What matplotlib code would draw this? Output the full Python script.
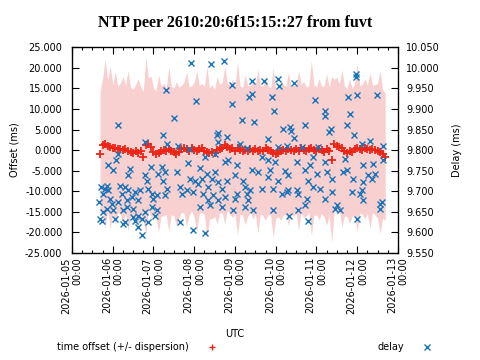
import numpy as np
import matplotlib
matplotlib.use("Agg")
import matplotlib.pyplot as plt
import matplotlib.dates as mdates
from matplotlib.lines import Line2D
from matplotlib.ticker import MultipleLocator, FormatStrFormatter

plt.rcParams["font.family"] = ["DejaVu Sans"]
plt.rcParams["font.size"] = 7

title = "NTP peer 2610:20:6f15:15::27 from fuvt"

# offset samples every 90 minutes from 2026-01-05 16:30
offset_start = np.datetime64("2026-01-05T16:30")
offset_step_min = 90
offset_ms = [
    -1.0, 1.3, 1.6, 1.1, 0.7, 0.4, 0.5, 0.2, 0.3, 0.1,
    0.2, -0.2, -0.4, -0.6, -0.3, -0.7, -0.2, -1.6, 1.2, 1.6,
    0.8, -0.4, -1.0, -0.8, -0.2, 0.1, -0.3, 0.2, -0.1, -0.4,
    -0.9, -0.5, 0.3, 0.6, 0.2, -0.2, 0.4, 0.1, -0.3, 0.2,
    0.5, -0.1, -0.5, -0.8, -0.4, -0.7, 0.0, 0.3, 0.6, 1.2,
    0.8, 0.2, 0.5, -0.1, 0.4, 0.0, -0.3, 0.1, -0.2, 0.3,
    -0.1, 0.2, -0.3, 0.1, -0.2, 0.4, 0.0, -0.3, -0.6, -0.9,
    -0.7, -0.2, 0.1, -0.1, 0.3, 0.0, -0.2, 0.2, -0.1, 0.4,
    0.1, -0.3, 0.2, 0.5, 0.0, -0.2, 0.3, 0.1, -0.4, 0.2,
    -0.3, -2.3, 1.5, 1.0, 0.7, 0.4, -0.2, -0.6, -0.3, -0.5,
    0.2, 0.5, 0.3, 0.1, 0.4, 0.2, 0.0, 0.3, 0.1, -0.2,
    -0.5, -0.9, -1.6,
]
dispersion_ms = [
    15.2, 16.0, 20.5, 15.8, 19.8, 15.6, 18.5, 15.4, 15.9, 17.8,
    15.5, 19.5, 15.7, 15.4, 16.2, 18.0, 15.6, 15.8, 21.5, 15.9,
    17.2, 15.5, 15.4, 19.0, 15.8, 16.1, 15.3, 20.0, 15.6, 15.5,
    17.5, 15.8, 15.4, 15.9, 18.8, 15.6, 15.2, 16.4, 19.6, 15.5,
    15.7, 15.6, 20.8, 15.9, 16.3, 15.4, 17.9, 15.6, 15.8, 19.2,
    15.5, 15.7, 16.8, 15.4, 21.0, 15.6, 15.5, 18.2, 15.9, 15.3,
    16.6, 15.7, 19.9, 15.5, 15.8, 17.4, 15.6, 15.4, 20.6, 15.7,
    15.5, 16.9, 15.8, 15.6, 18.6, 15.4, 15.9, 15.5, 19.4, 15.6,
    16.5, 15.7, 15.4, 21.2, 15.8, 15.6, 17.1, 15.5, 15.9, 18.4,
    15.6, 20.2, 15.7, 16.7, 15.4, 19.1, 15.8, 15.5, 17.6, 15.6,
    15.9, 20.4, 15.5, 15.7, 17.0, 15.6, 18.9, 15.4, 15.8, 16.4,
    19.7, 15.6, 15.5,
]

# delay samples: hours after 2026-01-05 00:00, delay in ms
delay_hours = [
    55.4, 27.3, 60.3, 53.8, 43.0, 55.8, 27.3, 25.7, 21.0, 24.3,
    34.2, 33.2, 46.5, 52.8, 50.8, 54.8, 43.0, 44.0, 53.8, 17.1,
    19.4, 21.4, 18.5, 20.4, 28.3, 31.2, 33.2, 29.3, 37.1, 40.1,
    35.2, 45.0, 46.9, 49.9, 47.9, 55.8, 54.8, 22.4, 23.4, 15.9,
    27.3, 32.2, 39.1, 20.4, 18.5, 24.3, 30.2, 32.2, 36.1, 43.0,
    46.9, 49.9, 17.5, 16.5, 25.3, 31.2, 30.2, 36.1, 39.1, 41.0,
    37.1, 39.1, 45.0, 48.9, 41.0,
    70.1, 81.9, 89.7, 94.4, 106.2, 104.2, 106.2, 73.0, 94.4,
    100.3, 107.4, 85.8, 85.2, 91.5, 62.2, 68.9, 86.2, 98.9, 102.9,
    78.3, 84.2, 68.5, 75.4, 90.1, 97.0, 92.1, 61.7, 84.2, 79.3,
    96.0, 105.8, 69.5, 72.4, 74.4, 76.4, 82.3, 86.2, 91.1, 100.9,
    63.6, 67.5, 71.5, 80.3, 88.2, 101.9, 104.8, 64.6, 77.4, 83.2,
    90.1, 97.0, 102.9, 80.3, 86.2, 96.0, 103.9, 75.4, 81.3, 88.2,
    101.9, 95.0, 106.8, 63.6, 71.5, 78.3,
    113.3, 121.5, 121.9, 131.0, 118.0, 143.1, 119.2, 149.0, 149.0,
    124.5, 128.4, 129.0, 137.2, 152.6, 151.4, 115.7, 131.0, 121.5, 126.5,
    135.3, 145.1, 111.7, 115.7, 119.6, 132.3, 142.2, 149.0, 140.2, 109.8,
    116.6, 125.5, 137.2, 144.1, 150.0, 115.7, 121.5, 127.4, 139.2, 153.0,
    111.7, 118.6, 127.4, 132.3, 142.2, 146.1, 123.5, 126.5, 133.3, 153.0,
    138.2, 137.2, 149.0, 118.6, 132.9, 127.8, 139.2,
    167.3, 167.3, 162.8, 168.1, 179.9, 163.8, 161.8, 166.1, 170.6,
    175.6, 183.4, 160.8, 171.2, 177.5, 183.4, 159.5, 161.8, 165.7,
    174.6, 176.5, 178.5, 171.6, 164.8, 170.6, 169.7, 171.6, 155.9,
    157.9, 154.9, 181.4, 181.4, 182.4, 168.1,
]
delay_ms = [
    9.946, 9.860, 9.878, 9.836, 9.819, 9.815, 9.791, 9.775, 9.763, 9.751,
    9.755, 9.739, 9.760, 9.759, 9.743, 9.747, 9.739, 9.726, 9.725, 9.710,
    9.706, 9.702, 9.694, 9.714, 9.714, 9.710, 9.702, 9.694, 9.698, 9.702,
    9.686, 9.706, 9.694, 9.690, 9.682, 9.706, 9.690, 9.682, 9.670, 9.674,
    9.674, 9.678, 9.678, 9.658, 9.650, 9.654, 9.654, 9.662, 9.658, 9.650,
    9.662, 9.654, 9.629, 9.633, 9.633, 9.625, 9.621, 9.637, 9.641, 9.633,
    9.629, 9.613, 9.625, 9.641, 9.595,
    10.011, 10.008, 10.016, 9.957, 9.967, 9.930, 9.937, 9.919, 9.911,
    9.874, 9.868, 9.841, 9.836, 9.833, 9.811, 9.803, 9.819, 9.815, 9.806,
    9.783, 9.790, 9.768, 9.757, 9.771, 9.765, 9.775, 9.747, 9.747, 9.743,
    9.739, 9.751, 9.730, 9.726, 9.718, 9.730, 9.730, 9.722, 9.726, 9.726,
    9.710, 9.702, 9.698, 9.710, 9.706, 9.710, 9.702, 9.694, 9.694, 9.690,
    9.686, 9.694, 9.694, 9.678, 9.678, 9.682, 9.678, 9.662, 9.666, 9.662,
    9.662, 9.655, 9.654, 9.625, 9.607, 9.599,
    9.969, 9.973, 9.955, 9.963, 9.930, 9.921, 9.896, 9.896, 9.884,
    9.852, 9.856, 9.846, 9.860, 9.852, 9.844, 9.828, 9.830, 9.807, 9.811,
    9.807, 9.807, 9.783, 9.775, 9.771, 9.771, 9.783, 9.771, 9.763, 9.747,
    9.751, 9.749, 9.751, 9.743, 9.747, 9.734, 9.726, 9.739, 9.726, 9.730,
    9.706, 9.706, 9.702, 9.702, 9.710, 9.706, 9.694, 9.698, 9.694, 9.698,
    9.682, 9.666, 9.682, 9.654, 9.655, 9.639, 9.629,
    9.985, 9.977, 9.930, 9.933, 9.933, 9.888, 9.862, 9.836, 9.815,
    9.821, 9.809, 9.779, 9.763, 9.767, 9.775, 9.747, 9.751, 9.730,
    9.739, 9.730, 9.743, 9.722, 9.698, 9.702, 9.694, 9.678, 9.666,
    9.654, 9.658, 9.670, 9.658, 9.674, 9.633,
]

t0 = np.datetime64("2026-01-05T00:00")
offset = np.array(offset_ms)
disp = np.array(dispersion_ms)
offset_t = offset_start + np.arange(len(offset)) * np.timedelta64(offset_step_min, "m")
delay_t = t0 + (np.array(delay_hours) * 3600).astype("timedelta64[s]")

red = "#ec2416"
blue = "#1a74b8"

fig = plt.figure(figsize=(4.8, 3.6), dpi=100)
ax = fig.add_axes([0.15, 0.297, 0.679, 0.572])

ax.fill_between(offset_t, offset - disp, offset + disp, color="#f9d0d0",
                linewidth=0, zorder=1)
ax.plot(offset_t, offset, linestyle="none", marker="+", color=red,
        markersize=6, markeredgewidth=1.3, zorder=3)

ax.set_xlim(np.datetime64("2026-01-05T00:00"), np.datetime64("2026-01-13T00:00"))
ax.set_ylim(-25, 25)
ax.yaxis.set_major_locator(MultipleLocator(5))
ax.yaxis.set_major_formatter(FormatStrFormatter("%.3f"))
ax.xaxis.set_major_locator(mdates.DayLocator())
ax.xaxis.set_minor_locator(mdates.HourLocator(byhour=[6, 12, 18]))
ax.xaxis.set_major_formatter(mdates.DateFormatter("%Y-%m-%d\n%H:%M"))
for lbl in ax.get_xticklabels():
    lbl.set_rotation(90)
    lbl.set_multialignment("right")
ax.tick_params(axis="x", which="major", direction="in", length=5, width=0.8,
               top=True, pad=3, labelrotation=90)
ax.tick_params(axis="x", which="minor", direction="in", length=2.5, width=0.8,
               top=True)
ax.tick_params(axis="y", which="major", direction="in", length=5, width=0.8,
               right=False, pad=7)
for s in ax.spines.values():
    s.set_linewidth(0.9)

ax.set_ylabel("Offset (ms)")
ax.yaxis.set_label_coords(-0.16, 0.5)
ax.set_xlabel("UTC")
ax.xaxis.set_label_coords(0.5, -0.37)

ax2 = ax.twinx()
ax2.plot(delay_t, delay_ms, linestyle="none", marker="x", color=blue,
         markersize=5, markeredgewidth=1.0, zorder=4)
ax2.set_ylim(9.55, 10.05)
ax2.yaxis.set_major_locator(MultipleLocator(0.05))
ax2.yaxis.set_major_formatter(FormatStrFormatter("%.3f"))
ax2.tick_params(axis="y", direction="in", length=5, width=0.8, pad=6)
ax2.set_ylabel("Delay (ms)")
ax2.yaxis.set_label_coords(1.166, 0.5)

fig.text(0.49, 1 - 27 / 360, title, ha="center", va="baseline",
         family=["Liberation Serif", "DejaVu Serif"], fontweight="bold",
         fontsize=11.5)

handles = [
    Line2D([], [], linestyle="none", marker="+", color=red, markersize=5,
           markeredgewidth=1.0),
    Line2D([], [], linestyle="none", marker="x", color=blue, markersize=5,
           markeredgewidth=1.0),
]
fig.legend(handles, ["time offset (+/- dispersion)", "delay"],
           loc="center", bbox_to_anchor=(0.512, 0.036), ncol=2,
           markerfirst=False, frameon=False, handlelength=1.5,
           handletextpad=1.6, columnspacing=16.3, borderaxespad=0)

fig.savefig("out.png", dpi=100)
